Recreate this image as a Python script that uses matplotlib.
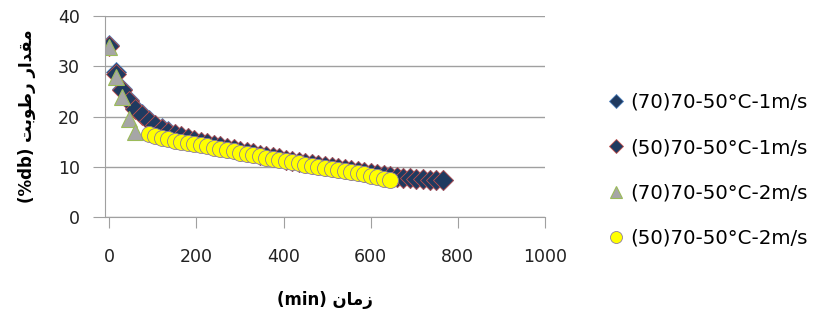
import matplotlib
matplotlib.use("Agg")
import matplotlib.pyplot as plt

# drying curves, time in minutes
t_1ms = list(range(0, 766, 15))
m_70_1ms = [34.3, 28.8, 25.5, 23.3, 21.7, 20.4, 19.3, 18.4, 17.7, 17.1,
            16.6, 16.2, 15.8, 15.4, 15.0, 14.7, 14.4, 14.1, 13.8, 13.5,
            13.2, 12.9, 12.7, 12.4, 12.2, 11.9, 11.7, 11.4, 11.2, 11.0,
            10.8, 10.6, 10.4, 10.2, 10.0, 9.8, 9.6, 9.4, 9.2, 8.9,
            8.7, 8.5, 8.3, 8.1, 7.9, 7.8, 7.7, 7.6, 7.5, 7.4,
            7.35, 7.3]
m_50_1ms = [34.0, 28.5, 25.2, 23.0, 21.4, 20.2, 19.1, 18.3, 17.6, 17.0,
            16.5, 16.1, 15.7, 15.3, 15.0, 14.7, 14.4, 14.1, 13.8, 13.5,
            13.2, 12.9, 12.7, 12.4, 12.2, 11.9, 11.7, 11.4, 11.2, 11.0,
            10.8, 10.6, 10.4, 10.2, 10.0, 9.8, 9.6, 9.4, 9.2, 8.9,
            8.7, 8.5, 8.3, 8.1, 7.9, 7.8, 7.7, 7.6, 7.5, 7.4,
            7.35, 7.3]
t_70_2ms = [0, 15, 30, 45, 60]
m_70_2ms = [33.8, 27.8, 23.9, 19.6, 16.9]
t_50_2ms = list(range(90, 646, 15))
m_50_2ms = [16.5, 16.1, 15.8, 15.5, 15.2, 14.9, 14.7, 14.5, 14.3, 14.1,
            13.8, 13.6, 13.3, 13.1, 12.8, 12.6, 12.3, 12.1, 11.8, 11.6,
            11.3, 11.1, 10.9, 10.7, 10.4, 10.2, 10.0, 9.8, 9.6, 9.4,
            9.2, 9.0, 8.7, 8.5, 8.2, 7.9, 7.6, 7.3]

labels = ["(70)70-50°C-1m/s", "(50)70-50°C-1m/s",
          "(70)70-50°C-2m/s", "(50)70-50°C-2m/s"]

# Persian labels, written in shaped presentation forms (visual order)
xlabel = "(min) \uFEE5\uFE8E\uFEE3\uFEAF"
ylabel = "(%db) \uFE96\uFE91\uFEEE\uFEC3\uFEAD \uFEAD\uFE8D\uFEAA\uFED8\uFEE3"

plt.rcParams['font.family'] = ['DejaVu Sans']

fig = plt.figure(figsize=(8.18, 3.24), dpi=100)
ax = fig.add_axes([105 / 818, 1 - 217 / 324, 440 / 818, 201 / 324])

ax.plot(t_1ms, m_70_1ms, 'D', ms=10, color='#1F3A60', mec='#4F81BD', mew=0.6, label=labels[0])
ax.plot(t_1ms, m_50_1ms, 'D', ms=10, color='#1F3A60', mec='#C0504D', mew=0.6, label=labels[1])
ax.plot(t_70_2ms, m_70_2ms, '^', ms=12, color='#A6A6A6', mec='#9BBB59', mew=0.8, label=labels[2])
ax.plot(t_50_2ms, m_50_2ms, 'o', ms=11.5, color='#FFFF00', mec='#8E7F9E', mew=0.6, label=labels[3])

ax.set_xlim(-10, 1000)
ax.set_ylim(0, 40)
ax.set_xticks([0, 200, 400, 600, 800, 1000])
ax.set_yticks([0, 10, 20, 30, 40])
ax.grid(axis='y', color='#A0A0A0', lw=1)
ax.set_axisbelow(True)
for s in ['top', 'right']:
    ax.spines[s].set_visible(False)
for s in ['left', 'bottom']:
    ax.spines[s].set_color('#A0A0A0')
ax.tick_params(axis='x', length=8, color='#A0A0A0', pad=14, labelsize=12.5, labelcolor='#222222')
ax.tick_params(axis='y', length=9, color='#A0A0A0', pad=9, labelsize=12.5, labelcolor='#222222')

ax.set_xlabel(xlabel, fontsize=12, fontweight='bold', labelpad=18)
ax.set_ylabel(ylabel, fontsize=12, fontweight='bold', labelpad=16)

fig.legend(loc='upper left', bbox_to_anchor=(608 / 818, 1 - 93 / 324), frameon=False,
           fontsize=14.2, markerscale=0.75, handlelength=0.8, handletextpad=0.35,
           labelspacing=1.33, borderpad=0, borderaxespad=0)

fig.savefig('out.png', dpi=100)
